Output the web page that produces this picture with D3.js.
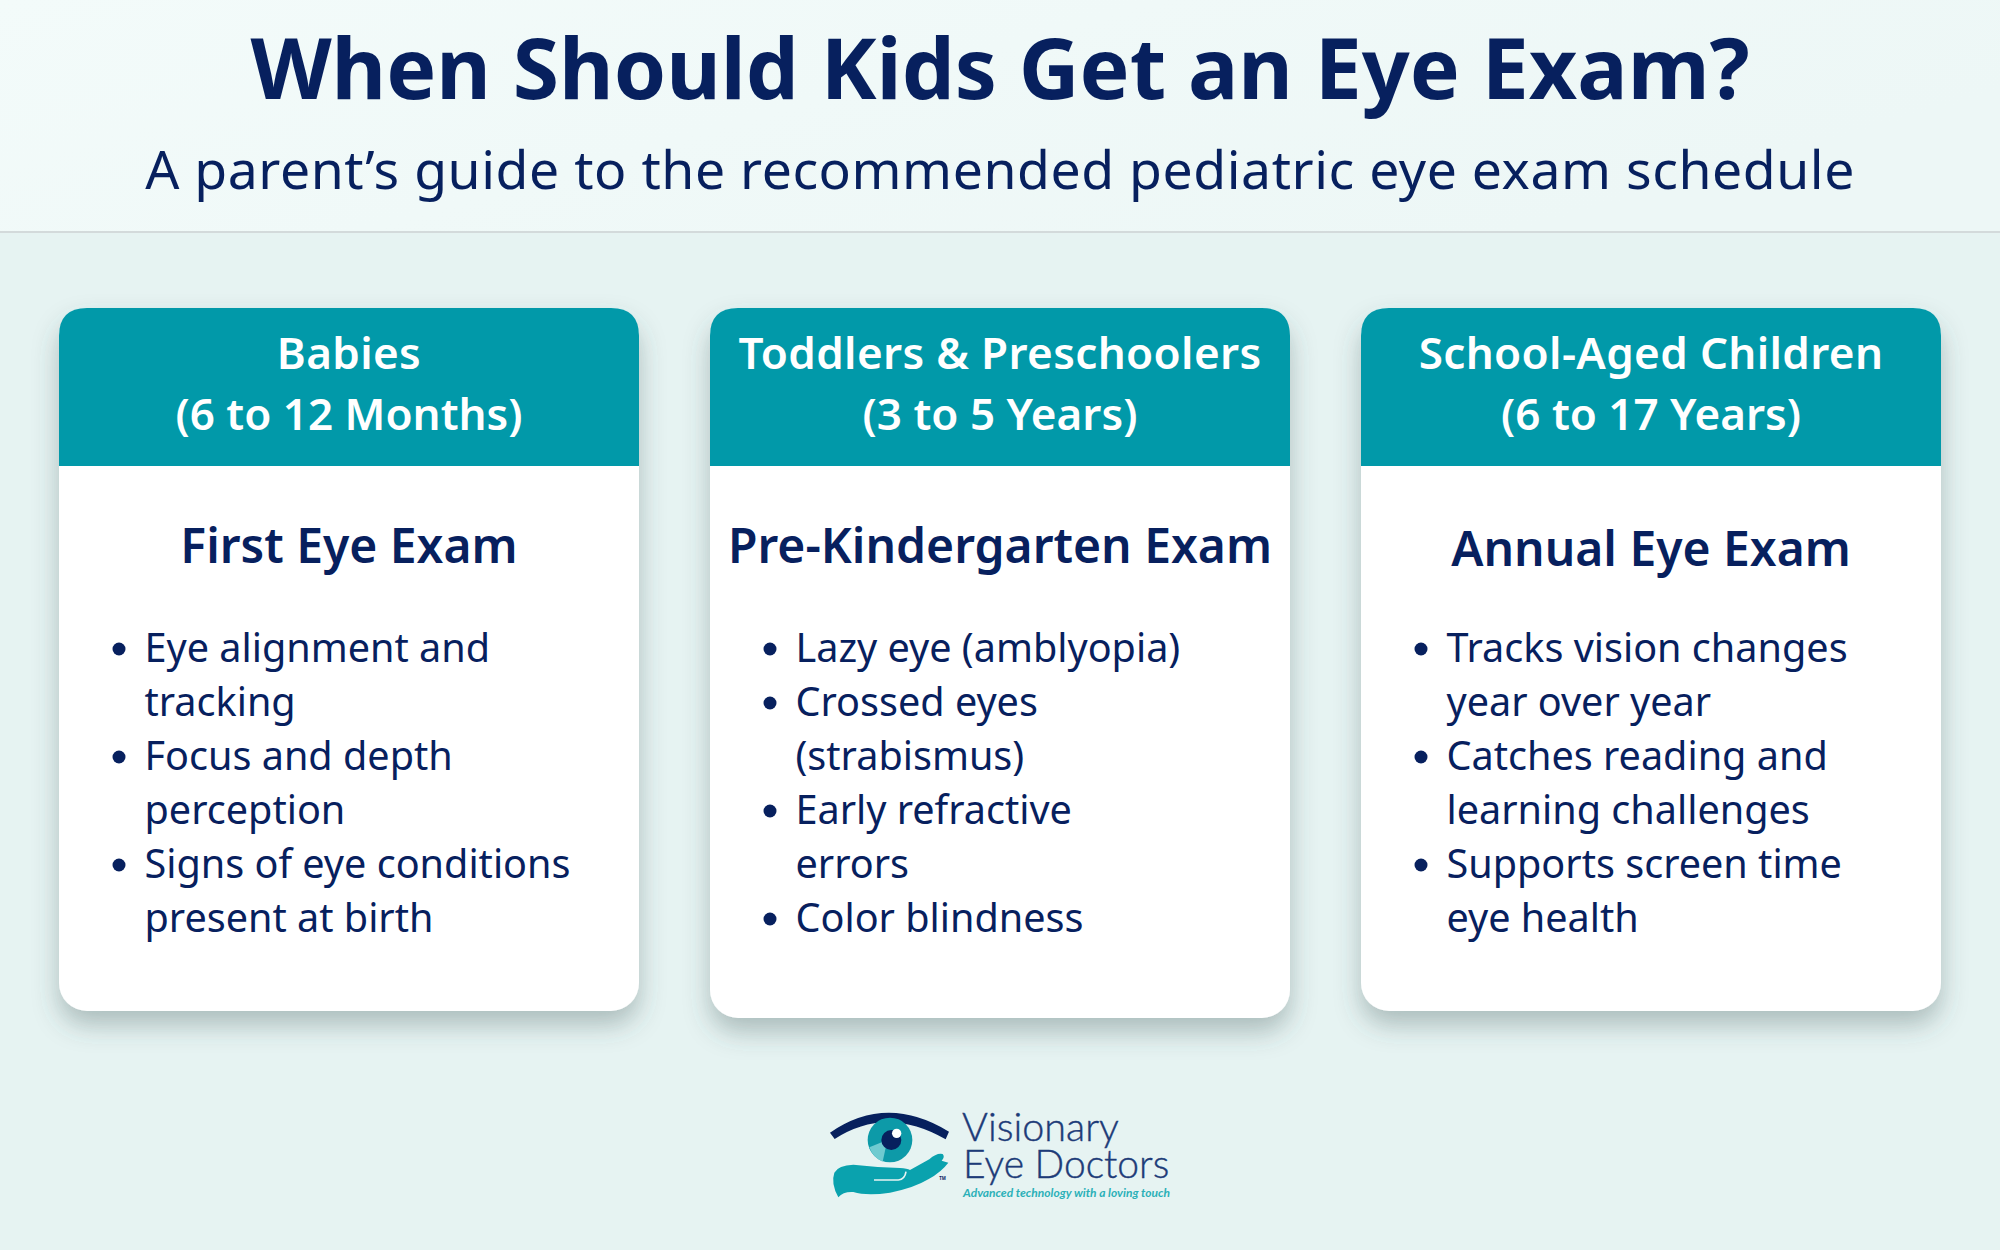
<!DOCTYPE html>
<html>
<head>
<title>When Should Kids Get an Eye Exam?</title>
<script src="https://cdnjs.cloudflare.com/ajax/libs/d3/7.8.5/d3.min.js"></script>
<style>
  html, body { margin: 0; padding: 0; background: #e6f3f2; }
  svg { display: block; }
  text { font-family: "Noto Sans", sans-serif; }
</style>
</head>
<body>
<div id="chart"></div>
<script>
// Content
const titleText = "When Should Kids Get an Eye Exam?";
const subtitleText = "A parent\u2019s guide to the recommended pediatric eye exam schedule";
const groups = ["Babies", "Toddlers & Preschoolers", "School-Aged Children"];
const ages = ["(6 to 12 Months)", "(3 to 5 Years)", "(6 to 17 Years)"];
const examNames = ["First Eye Exam", "Pre-Kindergarten Exam", "Annual Eye Exam"];
const cardBottoms = [1011, 1018, 1011];
const examBaselines = [563, 563, 566];
const bullets = [
  [["Eye alignment and", "tracking"], ["Focus and depth", "perception"], ["Signs of eye conditions", "present at birth"]],
  [["Lazy eye (amblyopia)"], ["Crossed eyes", "(strabismus)"], ["Early refractive", "errors"], ["Color blindness"]],
  [["Tracks vision changes", "year over year"], ["Catches reading and", "learning challenges"], ["Supports screen time", "eye health"]]
];

const navy = "#07205e", teal = "#0199a9";
const W = 2000, H = 1250;

const svg = d3.select("#chart").append("svg").attr("width", W).attr("height", H);
const defs = svg.append("defs");

const grad = defs.append("linearGradient").attr("id", "headGrad")
  .attr("x1", 0).attr("y1", 0).attr("x2", 1).attr("y2", 0.4);
grad.append("stop").attr("offset", 0).attr("stop-color", "#f3fbfa");
grad.append("stop").attr("offset", 1).attr("stop-color", "#edf7f6");

const shadow = defs.append("filter").attr("id", "cardShadow")
  .attr("x", "-10%").attr("y", "-10%").attr("width", "120%").attr("height", "125%");
shadow.append("feDropShadow").attr("dx", 0).attr("dy", 14).attr("stdDeviation", 13)
  .attr("flood-color", "#3c5555").attr("flood-opacity", 0.34);

// Background and page header
svg.append("rect").attr("width", W).attr("height", H).attr("fill", "#e6f3f2");
svg.append("rect").attr("width", W).attr("height", 231).attr("fill", "url(#headGrad)");
svg.append("line").attr("x1", 0).attr("x2", W).attr("y1", 232).attr("y2", 232)
  .attr("stroke", "#d3dadb").attr("stroke-width", 2);

svg.append("text").attr("x", 1000).attr("y", 99).attr("text-anchor", "middle")
  .attr("font-size", 84).attr("font-weight", 700).attr("fill", navy).text(titleText);
svg.append("text").attr("x", 1000).attr("y", 189).attr("text-anchor", "middle")
  .attr("font-size", 53.5).attr("letter-spacing", 0.55).attr("fill", navy).text(subtitleText);

// Cards
const x = d3.scaleBand().domain(groups).range([59, 1941]).paddingInner(71 / 651);
const lineY = d3.scaleLinear().domain([0, 1]).range([662, 716]);
const radius = 28, headTop = 308, headBottom = 466;

const cards = svg.selectAll("g.card").data(groups).join("g")
  .attr("class", "card")
  .attr("transform", d => `translate(${x(d)},0)`);

cards.append("rect")
  .attr("width", x.bandwidth()).attr("y", headTop)
  .attr("height", (d, i) => cardBottoms[i] - headTop)
  .attr("rx", radius).attr("fill", "#fff").attr("filter", "url(#cardShadow)");

cards.append("path").attr("fill", teal).attr("d", () => {
  const w = x.bandwidth();
  return `M0,${headBottom}V${headTop + radius}Q0,${headTop} ${radius},${headTop}H${w - radius}Q${w},${headTop} ${w},${headTop + radius}V${headBottom}Z`;
});

const mid = x.bandwidth() / 2;
cards.append("text").attr("x", mid).attr("y", 369).attr("text-anchor", "middle")
  .attr("font-size", 44).attr("letter-spacing", 0.35).attr("font-weight", 600).attr("fill", "#fff").text(d => d);
cards.append("text").attr("x", mid).attr("y", 430).attr("text-anchor", "middle")
  .attr("font-size", 44).attr("font-weight", 600).attr("fill", "#fff").text((d, i) => ages[i]);
cards.append("text").attr("x", mid).attr("y", (d, i) => examBaselines[i]).attr("text-anchor", "middle")
  .attr("font-size", 48).attr("font-weight", 600).attr("fill", navy).text((d, i) => examNames[i]);

cards.each(function (d, i) {
  const g = d3.select(this);
  let row = 0;
  bullets[i].forEach(item => {
    g.append("circle").attr("cx", 60).attr("cy", lineY(row) - 13).attr("r", 6.5).attr("fill", navy);
    item.forEach(line => {
      g.append("text").attr("x", 85.5).attr("y", lineY(row))
        .attr("font-size", 39.6).attr("fill", navy).text(line);
      row++;
    });
  });
});

// Logo, drawn in the pixel grid of a 3x crop
const logo = svg.append("g").attr("transform", "translate(800,1090) scale(0.3333)");
logo.append("path").attr("fill", navy)
  .attr("d", "M90,128Q260,10 447,125L437,148Q260,46 104,147Z");
logo.append("circle").attr("cx", 270).attr("cy", 150).attr("r", 67).attr("fill", "#0d9aa8");
logo.append("path").attr("fill", "#6fcbd0")
  .attr("d", "M262,150L208,172Q220,205 248,215Z");
logo.append("circle").attr("cx", 274).attr("cy", 150).attr("r", 30).attr("fill", navy);
logo.append("circle").attr("cx", 290).attr("cy", 130).attr("r", 14).attr("fill", "#fff");
logo.append("path").attr("fill", "#0aa2ae")
  .attr("d", "M115,322Q92,280 103,248Q115,225 160,224Q230,232 300,234Q322,236 330,240L388,208Q410,188 428,192Q436,200 425,212L445,218Q425,245 385,268Q340,295 270,308Q200,318 160,306Q130,304 115,322Z");
logo.append("path").attr("fill", "none").attr("stroke", "#e6f3f2").attr("stroke-width", 5)
  .attr("d", "M222,270H295Q315,268 318,245");
logo.append("text").attr("x", 418).attr("y", 270).attr("font-size", 13).attr("font-weight", 700)
  .attr("fill", navy).text("TM");

const logoFont = "Lato";
svg.append("text").attr("x", 962).attr("y", 1141).attr("font-size", 39.5).attr("font-weight", 300)
  .attr("stroke", "#1d3b78").attr("stroke-width", 0.4)
  .attr("fill", "#1d3b78").style("font-family", logoFont).text("Visionary");
svg.append("text").attr("x", 963).attr("y", 1178).attr("font-size", 39).attr("font-weight", 300)
  .attr("stroke", "#1d3b78").attr("stroke-width", 0.4)
  .attr("fill", "#1d3b78").style("font-family", logoFont).text("Eye Doctors");
svg.append("text").attr("x", 963).attr("y", 1197).attr("font-size", 12)
  .attr("font-style", "italic").attr("font-weight", 700).attr("fill", "#2bb0b8")
  .style("font-family", logoFont).text("Advanced technology with a loving touch");
</script>
</body>
</html>
